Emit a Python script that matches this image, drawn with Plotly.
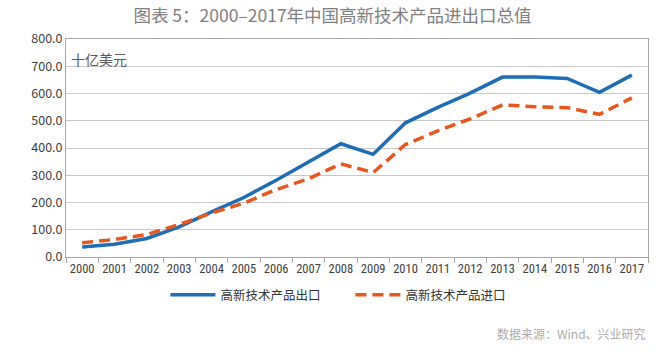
import plotly.graph_objects as go

years = [str(y) for y in range(2000, 2018)]
exports = [37.0, 46.5, 67.9, 110.3, 165.5, 218.3, 281.5, 347.8, 415.6, 376.9, 492.4, 548.8, 601.2, 660.3, 660.5, 655.2, 604.2, 667.4]
imports = [52.5, 64.1, 82.8, 119.3, 161.4, 197.7, 247.3, 287.0, 341.9, 309.8, 412.7, 463.2, 506.9, 558.2, 551.4, 548.1, 523.6, 584.0]
series_names = ["高新技术产品出口", "高新技术产品进口"]
yticks = [0, 100, 200, 300, 400, 500, 600, 700, 800]

font_cjk = "Noto Sans CJK SC"

fig = go.Figure()
fig.add_trace(go.Scatter(x=years, y=exports, mode="lines", name=series_names[0] + "\u3000\u3000",
                         line=dict(color="#1f6db4", width=3.5)))
fig.add_trace(go.Scatter(x=years, y=imports, mode="lines", name=series_names[1],
                         line=dict(color="#e5581f", width=3.5, dash="11px,6px")))

fig.update_layout(
    width=665, height=350,
    margin=dict(l=66, r=17, t=39, b=93),
    paper_bgcolor="white", plot_bgcolor="white",
    font=dict(family=font_cjk, color="#404040", size=12),
    title=dict(text="图表 5：2000–2017年中国高新技术产品进出口总值",
               x=0.5, xanchor="center", y=0.955, yanchor="middle",
               font=dict(size=17.5, color="#808080", family=font_cjk)),
    showlegend=True,
    legend=dict(orientation="h", x=0.468, xanchor="center", y=-0.175, yanchor="middle",
                font=dict(size=12.5, color="#333333", family=font_cjk),
                itemwidth=45, tracegroupgap=0, bgcolor="rgba(0,0,0,0)"),
    xaxis=dict(type="category", showgrid=False, showline=True, linecolor="#a6a6a6",
               linewidth=1, mirror=True, ticks="outside", tickson="boundaries",
               ticklen=5, tickcolor="#a6a6a6", tickangle=0,
               tickfont=dict(size=12.5, color="#404040", family="Liberation Sans Narrow, Roboto Condensed, Liberation Sans"),
               range=[-0.5, 17.5]),
    yaxis=dict(range=[0, 800], tickvals=yticks, tickformat=".1f",
               showgrid=True, gridcolor="#c8c8c8", gridwidth=1,
               showline=True, linecolor="#a6a6a6", linewidth=1, mirror=True,
               ticks="", tickfont=dict(size=12.5, color="#404040"), zeroline=False),
    annotations=[
        dict(text="十亿美元", xref="paper", yref="paper", x=0.005, y=0.965,
             xanchor="left", yanchor="top", showarrow=False,
             font=dict(size=14, color="#595959", family=font_cjk)),
        dict(text="数据来源：Wind、兴业研究", xref="paper", yref="paper", x=1.0, y=-0.35,
             xanchor="right", yanchor="middle", showarrow=False,
             font=dict(size=12, color="#ababab", family=font_cjk)),
    ],
)

fig.write_html("out.html")
